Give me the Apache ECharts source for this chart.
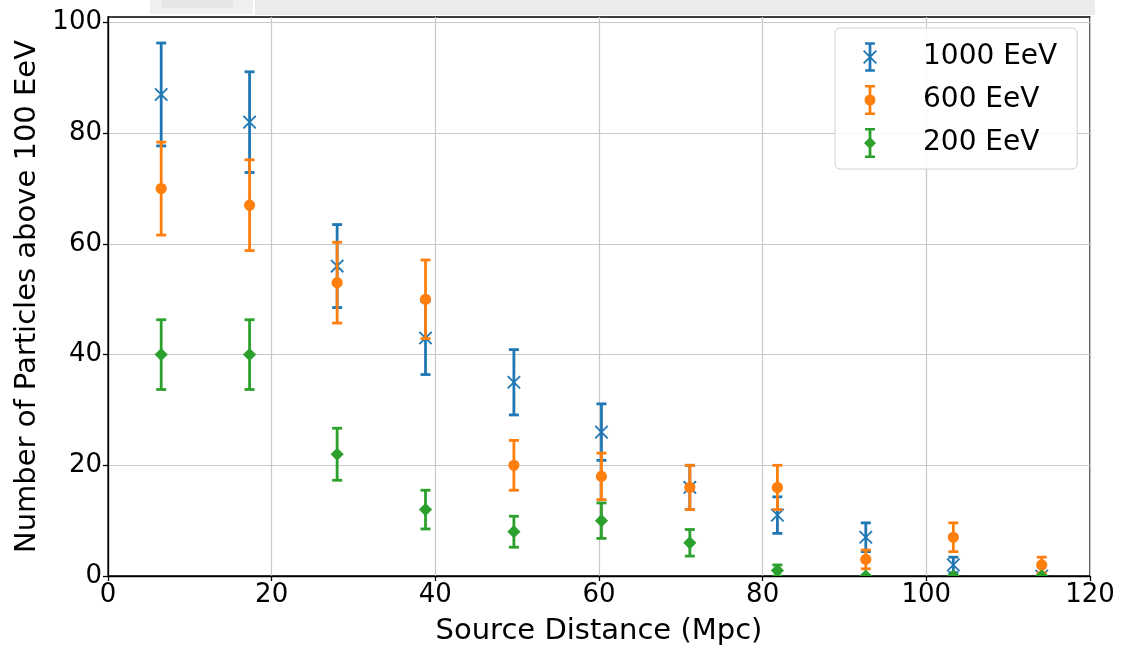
<!DOCTYPE html>
<html>
<head>
<meta charset="utf-8">
<script src="https://cdn.jsdelivr.net/npm/echarts@6/dist/echarts.min.js"></script>
<style>
  html, body { margin: 0; padding: 0; background: #ffffff; }
  #chart { width: 1121px; height: 645px; }
</style>
</head>
<body>
<div id="chart"></div>
<script>
// Source distances (Mpc) shared by all three energy thresholds
const distances = [6.5, 17.3, 28.0, 38.8, 49.6, 60.3, 71.1, 81.8, 92.6, 103.3, 114.1];

// Particle counts above 100 EeV and their error bars, per injection energy
const counts1000 = [87, 82, 56, 43, 35, 26, 16, 11, 7, 2, 0];
const err1000    = [9.3, 9.1, 7.5, 6.6, 5.9, 5.1, 4.0, 3.3, 2.6, 1.4, 0];
const counts600  = [70, 67, 53, 50, 20, 18, 16, 16, 3, 7, 2];
const err600     = [8.4, 8.2, 7.3, 7.1, 4.5, 4.2, 4.0, 4.0, 1.7, 2.6, 1.4];
const counts200  = [40, 40, 22, 12, 8, 10, 6, 1, 0, 0, 0];
const err200     = [6.3, 6.3, 4.7, 3.5, 2.8, 3.2, 2.4, 1.0, 0, 0, 0];

const seriesNames = ['1000 EeV', '600 EeV', '200 EeV'];
const xTicks = [0, 20, 40, 60, 80, 100, 120];
const yTicks = [0, 20, 40, 60, 80, 100];

const COLORS = ['#1f77b4', '#ff7f0e', '#2ca02c'];
const FONT = 'DejaVu Sans';

// ---- legend icon paths: error bar with caps plus the series marker ----
function rect(x1, y1, x2, y2) {
  return `M${x1} ${y1}L${x2} ${y1}L${x2} ${y2}L${x1} ${y2}Z`;
}
function band(ax, ay, bx, by, w) {
  const len = Math.hypot(bx - ax, by - ay);
  const nx = -(by - ay) / len * w, ny = (bx - ax) / len * w;
  const p1 = [ax + nx, ay + ny], p2 = [bx + nx, by + ny];
  const p3 = [bx - nx, by - ny], p4 = [ax - nx, ay - ny];
  // keep the same winding as the rectangles so the union fills solid
  const pts = [p1, p2, p3, p4];
  let area = 0;
  for (let i = 0; i < 4; i++) {
    const a = pts[i], b = pts[(i + 1) % 4];
    area += a[0] * b[1] - b[0] * a[1];
  }
  const ordered = area > 0 ? pts : [p1, p4, p3, p2];
  return 'M' + ordered.map(p => p[0].toFixed(2) + ' ' + p[1].toFixed(2)).join('L') + 'Z';
}
function errorBarIcon(marker) {
  const cx = 7, cy = 15;
  let d = rect(2, 0, 12, 2.6) + rect(2, 27.4, 12, 30) + rect(5.6, 0, 8.4, 30);
  if (marker === 'x') {
    d += band(0.5, 8.5, 13.5, 21.5, 0.9) + band(13.5, 8.5, 0.5, 21.5, 0.9);
  } else if (marker === 'circle') {
    const r = 5.5;
    d += `M${cx - r} ${cy}A${r} ${r} 0 1 1 ${cx + r} ${cy}A${r} ${r} 0 1 1 ${cx - r} ${cy}Z`;
  } else {
    const r = 6;
    d += `M${cx} ${cy - r}L${cx + r} ${cy}L${cx} ${cy + r}L${cx - r} ${cy}Z`;
  }
  return 'path://' + d;
}

// ---- error bar + marker drawn through the axis scales ----
function makeRenderer(color, marker) {
  return function (params, api) {
    const x = api.value(0), y = api.value(1), e = api.value(2);
    const c = api.coord([x, y]);
    const top = api.coord([x, y + e]);
    const bot = api.coord([x, y - e]);
    const cap = 5, lw = 2.8;
    const lineStyle = { stroke: color, lineWidth: lw };
    const children = [
      { type: 'line', shape: { x1: c[0], y1: top[1], x2: c[0], y2: bot[1] }, style: lineStyle },
      { type: 'line', shape: { x1: c[0] - cap, y1: top[1], x2: c[0] + cap, y2: top[1] }, style: lineStyle },
      { type: 'line', shape: { x1: c[0] - cap, y1: bot[1], x2: c[0] + cap, y2: bot[1] }, style: lineStyle }
    ];
    if (marker === 'x') {
      const s = 6.2;
      const ms = { stroke: color, lineWidth: 1.8 };
      children.push({ type: 'line', shape: { x1: c[0] - s, y1: c[1] - s, x2: c[0] + s, y2: c[1] + s }, style: ms });
      children.push({ type: 'line', shape: { x1: c[0] - s, y1: c[1] + s, x2: c[0] + s, y2: c[1] - s }, style: ms });
    } else if (marker === 'circle') {
      children.push({ type: 'circle', shape: { cx: c[0], cy: c[1], r: 5.6 }, style: { fill: color } });
    } else {
      const r = 6.6;
      children.push({
        type: 'polygon',
        shape: { points: [[c[0], c[1] - r], [c[0] + r, c[1]], [c[0], c[1] + r], [c[0] - r, c[1]]] },
        style: { fill: color }
      });
    }
    return { type: 'group', children };
  };
}

const seriesDefs = [
  { name: seriesNames[0], counts: counts1000, err: err1000, marker: 'x' },
  { name: seriesNames[1], counts: counts600, err: err600, marker: 'circle' },
  { name: seriesNames[2], counts: counts200, err: err200, marker: 'diamond' }
];

const series = seriesDefs.map((s, k) => ({
  name: s.name,
  type: 'custom',
  clip: true,
  itemStyle: { color: COLORS[k] },
  encode: { x: 0, y: 1 },
  data: distances.map((d, i) => [d, s.counts[i], s.err[i]]),
  renderItem: makeRenderer(COLORS[k], s.marker),
  silent: true
}));

const chart = echarts.init(document.getElementById('chart'), null, { renderer: 'canvas' });

chart.setOption({
  animation: false,
  backgroundColor: '#ffffff',
  textStyle: { fontFamily: FONT },
  graphic: [
    { type: 'rect', left: 150, top: 0, shape: { width: 103, height: 14 }, style: { fill: '#efefef' }, z: -1 },
    { type: 'rect', left: 162, top: 0, shape: { width: 71, height: 8 }, style: { fill: '#e6e6e6' }, z: -1 },
    { type: 'rect', left: 255, top: 0, shape: { width: 840, height: 15 }, style: { fill: '#ebebeb' }, z: -1 }
  ],
  grid: {
    left: 108, right: 31, top: 17, bottom: 69,
    outerBoundsMode: 'none',
    containLabel: false,
    show: true, borderColor: '#000000', borderWidth: 1.3, backgroundColor: '#ffffff'
  },
  legend: {
    left: 835, top: 28,
    orient: 'vertical',
    data: seriesDefs.map(s => ({ name: s.name, icon: errorBarIcon(s.marker) })),
    itemWidth: 14, itemHeight: 30, itemGap: 13,
    padding: [14, 20, 11, 28],
    backgroundColor: 'rgba(255,255,255,0.85)',
    borderColor: '#d0d0d0', borderWidth: 1, borderRadius: 5,
    formatter: name => '{gap|}' + name,
    textStyle: {
      fontFamily: FONT, fontSize: 28, color: '#000000', lineHeight: 30,
      rich: { gap: { width: 41 } }
    },
    selectedMode: false
  },
  xAxis: {
    type: 'value', min: 0, max: 120, interval: 20,
    name: 'Source Distance (Mpc)', nameLocation: 'middle', nameGap: 41,
    nameTextStyle: { fontFamily: FONT, fontSize: 29, color: '#000000' },
    axisLine: { show: true, lineStyle: { color: '#000000', width: 1.3 } },
    axisTick: { show: true, length: 5, lineStyle: { color: '#000000', width: 1.3 }, customValues: xTicks },
    axisLabel: { fontFamily: FONT, fontSize: 26, color: '#000000', margin: 6, customValues: xTicks },
    splitLine: { show: true, lineStyle: { color: '#c8c8c8', width: 1.2 } }
  },
  yAxis: {
    type: 'value', min: 0, max: 101, interval: 20,
    name: 'Number of Particles above 100 EeV', nameLocation: 'middle', nameGap: 62,
    nameTextStyle: { fontFamily: FONT, fontSize: 29, color: '#000000' },
    axisLine: { show: true, lineStyle: { color: '#000000', width: 1.3 } },
    axisTick: { show: true, length: 5, lineStyle: { color: '#000000', width: 1.3 }, customValues: yTicks },
    axisLabel: { fontFamily: FONT, fontSize: 26, color: '#000000', margin: 6, customValues: yTicks },
    splitLine: { show: true, lineStyle: { color: '#c8c8c8', width: 1.2 } }
  },
  series: series
});
</script>
</body>
</html>
